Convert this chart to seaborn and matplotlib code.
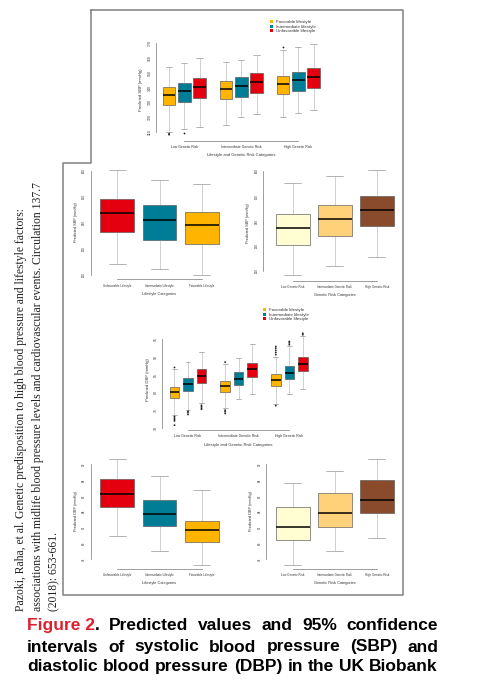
import matplotlib
matplotlib.use('Agg')
import matplotlib.pyplot as plt
from matplotlib.patches import Patch
from matplotlib.lines import Line2D
import pandas as pd
import seaborn as sns

W, H = 479, 680

# categories
genetic_risk = ['Low Genetic Risk', 'Intermediate Genetic Risk', 'High Genetic Risk']
lifestyles = ['Favorable lifestyle', 'Intermediate lifestyle', 'Unfavorable lifestyle']
lifestyle_cats = ['Unfavorable Lifestyle', 'Intermediate Lifestyle', 'Favorable Lifestyle']

# five-number summaries: lower whisker, Q1, median, Q3, upper whisker
# SBP by genetic risk x lifestyle (fav, int, unfav)
sbp_low_risk = [[110.0, 128.1, 135.0, 140.1, 153.9], [112.0, 130.1, 137.6, 143.2, 156.2], [113.8, 132.7, 140.3, 146.1, 159.5]]
sbp_mid_risk = [[114.7, 132.1, 138.8, 144.1, 157.1], [120.0, 133.6, 141.2, 146.8, 158.4], [122.0, 136.5, 143.6, 149.7, 161.7]]
sbp_high_risk = [[120.0, 135.6, 142.6, 147.7, 165.1], [123.2, 137.7, 145.0, 150.4, 166.9], [124.9, 139.7, 147.0, 152.8, 169.3]]
sbp_outliers = [('Low Genetic Risk', 'Favorable lifestyle', 108.4),
                ('Low Genetic Risk', 'Favorable lifestyle', 109.0),
                ('Low Genetic Risk', 'Intermediate lifestyle', 109.8),
                ('High Genetic Risk', 'Favorable lifestyle', 167.1)]

# SBP by lifestyle (unfav, int, fav) and by genetic risk (low, int, high)
sbp_by_lifestyle = [[124.2, 136.6, 143.8, 149.2, 160.5], [122.1, 133.5, 141.0, 146.8, 156.4], [119.7, 132.0, 139.0, 144.1, 155.1]]
sbp_by_genetic = [[118.3, 130.5, 137.2, 142.8, 155.1], [122.0, 134.1, 140.9, 146.5, 158.0], [125.6, 137.9, 144.5, 150.1, 160.4]]

# DBP by genetic risk x lifestyle
dbp_low_risk = [[73.7, 78.4, 80.1, 81.6, 86.6], [75.1, 80.4, 82.3, 84.0, 88.5], [76.9, 82.6, 84.5, 86.5, 91.4]]
dbp_mid_risk = [[75.5, 80.1, 81.7, 83.2, 88.0], [78.1, 82.2, 83.8, 85.6, 89.8], [79.5, 84.4, 86.5, 88.2, 93.5]]
dbp_high_risk = [[76.7, 81.7, 83.4, 85.1, 90.0], [79.5, 83.8, 85.5, 87.3, 93.0], [80.9, 86.1, 88.0, 89.9, 95.8]]
dbp_outliers = [('Low Genetic Risk', 'Favorable lifestyle', v) for v in [87.0, 73.2, 72.8, 72.4, 72.0, 70.8]] + \
               [('Low Genetic Risk', 'Intermediate lifestyle', v) for v in [74.7, 74.3, 73.8]] + \
               [('Low Genetic Risk', 'Unfavorable lifestyle', v) for v in [76.4, 76.0, 75.6, 75.3]] + \
               [('Intermediate Genetic Risk', 'Favorable lifestyle', v) for v in [88.5, 75.0, 74.6, 74.1]] + \
               [('High Genetic Risk', 'Favorable lifestyle', v) for v in [90.6, 91.2, 91.8, 92.4, 92.9, 76.3]] + \
               [('High Genetic Risk', 'Intermediate lifestyle', v) for v in [93.4, 93.9, 94.3]] + \
               [('High Genetic Risk', 'Unfavorable lifestyle', v) for v in [96.2, 96.6]]

dbp_by_lifestyle = [[80.9, 84.6, 86.2, 88.2, 90.7], [79.1, 82.2, 83.7, 85.5, 88.5], [77.3, 80.2, 81.7, 82.9, 86.8]]
dbp_by_genetic = [[77.3, 80.4, 82.1, 84.6, 87.7], [79.1, 82.1, 83.9, 86.4, 89.2], [80.7, 83.8, 85.5, 88.0, 90.7]]

lifestyle_colors = {'Favorable lifestyle': '#FFB400', 'Intermediate lifestyle': '#007D96', 'Unfavorable lifestyle': '#E4000F'}
lifestyle_cat_colors = {'Unfavorable Lifestyle': '#E4000F', 'Intermediate Lifestyle': '#007D96', 'Favorable Lifestyle': '#FFB400'}
genetic_colors = {'Low Genetic Risk': '#FFFDD2', 'Intermediate Genetic Risk': '#FFD27A', 'High Genetic Risk': '#8A4A2C'}

TXT = '#333333'
AXC = '#777777'


def grouped_frame(groups):
    rows = []
    for cat, boxes in zip(genetic_risk, groups):
        for hue, vals in zip(lifestyles, boxes):
            for v in vals:
                rows.append({'cat': cat, 'hue': hue, 'value': v})
    return pd.DataFrame(rows)


def simple_frame(cats, boxes):
    rows = []
    for cat, vals in zip(cats, boxes):
        for v in vals:
            rows.append({'cat': cat, 'value': v})
    return pd.DataFrame(rows)


def place_axes(fig, yaxis_px, cat0_px, step_px, v_lo, px_lo, v_hi, px_hi, bracket_px, v_top):
    x_left = -(cat0_px - yaxis_px) / step_px
    x_right = 2 - x_left
    right_px = cat0_px + x_right * step_px
    scale = (px_lo - px_hi) / (v_hi - v_lo)
    v_bottom = v_lo - (bracket_px - px_lo) / scale
    top_px = px_hi - (v_top - v_hi) * scale
    ax = fig.add_axes([yaxis_px / W, 1 - bracket_px / H, (right_px - yaxis_px) / W, (bracket_px - top_px) / H])
    ax.set_facecolor('none')
    return ax, (x_left, x_right), (v_bottom, v_top)


def style_axes(ax, xlim, ylim, yticks, xticklabels, xlabel, ylabel, tick_fs, lab_fs):
    ax.set_xlim(*xlim)
    ax.set_ylim(*ylim)
    ax.set_yticks(yticks)
    ax.set_yticklabels([str(t) for t in yticks], rotation=90, va='center', color=TXT)
    ax.set_xticks([0, 1, 2])
    ax.set_xticklabels(xticklabels, color=TXT)
    for s in ['top', 'right']:
        ax.spines[s].set_visible(False)
    for s in ['left', 'bottom']:
        ax.spines[s].set_color(AXC)
        ax.spines[s].set_linewidth(0.5)
    ax.spines['left'].set_bounds(yticks[0], yticks[-1])
    ax.spines['bottom'].set_bounds(0, 2)
    ax.tick_params(axis='both', length=1.6, width=0.4, color=AXC, labelsize=tick_fs, pad=1.6)
    ax.set_xlabel(xlabel, fontsize=lab_fs, color=TXT, labelpad=3)
    ax.set_ylabel(ylabel, fontsize=lab_fs, color=TXT, labelpad=3)
    ax.grid(False)


box_kw = dict(whis=(0, 100), saturation=1, showfliers=False, linecolor='#555555', linewidth=0.45,
              medianprops=dict(color='black', linewidth=1.1),
              whiskerprops=dict(color='#8a8a8a', linestyle=(0, (2, 1.2)), linewidth=0.45),
              capprops=dict(color='#8a8a8a', linewidth=0.45))


def grouped_panel(fig, geom, groups, outliers, yticks, ylabel, gap):
    ax, xlim, ylim = place_axes(fig, *geom)
    df = grouped_frame(groups)
    sns.boxplot(data=df, x='cat', y='value', hue='hue', order=genetic_risk, hue_order=lifestyles,
                palette=lifestyle_colors, width=0.8, gap=gap, legend=False, ax=ax, **box_kw)
    odf = pd.DataFrame(outliers, columns=['cat', 'hue', 'value'])
    sns.stripplot(data=odf, x='cat', y='value', hue='hue', order=genetic_risk, hue_order=lifestyles,
                  dodge=True, jitter=False, palette=['#222222'] * 3, size=1.3, legend=False, ax=ax)
    style_axes(ax, xlim, ylim, yticks, genetic_risk, 'Lifestyle and Genetic Risk Categories', ylabel, 2.5, 3.0)
    return ax


def simple_panel(fig, geom, cats, boxes, colors, yticks, xlabel, ylabel):
    ax, xlim, ylim = place_axes(fig, *geom)
    df = simple_frame(cats, boxes)
    sns.boxplot(data=df, x='cat', y='value', hue='cat', order=cats, hue_order=cats,
                palette=colors, width=0.8, legend=False, ax=ax, **box_kw)
    style_axes(ax, xlim, ylim, yticks, cats, xlabel, ylabel, 2.2, 2.8)
    return ax


sns.set_theme(style='white')
plt.rcParams['font.family'] = ['Liberation Sans', 'DejaVu Sans']

fig = plt.figure(figsize=(W / 100, H / 100), dpi=100)
fig.patch.set_facecolor('white')

# top: SBP grouped
grouped_panel(fig, (156, 184.3, 57, 110, 132.3, 170, 42.7, 140.7, 172), [sbp_low_risk, sbp_mid_risk, sbp_high_risk],
              sbp_outliers, [110, 120, 130, 140, 150, 160, 170], 'Predicted SBP (mmHg)', 0.16)
# SBP by lifestyle / genetic risk
simple_panel(fig, (90.7, 117.3, 42.2, 120, 274.7, 160, 171, 279.3, 162), lifestyle_cats, sbp_by_lifestyle,
             lifestyle_cat_colors, [120, 130, 140, 150, 160], 'Lifestyle Categories', 'Predicted SBP (mmHg)')
simple_panel(fig, (263, 292.7, 42, 120, 271, 160, 171, 280.7, 162), genetic_risk, sbp_by_genetic,
             genetic_colors, [120, 130, 140, 150, 160], 'Genetic Risk Categories', 'Predicted SBP (mmHg)')
# DBP grouped
grouped_panel(fig, (162.3, 188, 50.65, 70, 428, 95, 339, 430, 97.5), [dbp_low_risk, dbp_mid_risk, dbp_high_risk],
              dbp_outliers, [70, 75, 80, 85, 90, 95], 'Predicted DBP (mmHg)', 0.3)
# DBP by lifestyle / genetic risk
simple_panel(fig, (90.7, 117.3, 42.2, 78, 559.3, 90, 464.3, 568.7, 91.5), lifestyle_cats, dbp_by_lifestyle,
             lifestyle_cat_colors, [78, 80, 82, 84, 86, 88, 90], 'Lifestyle Categories', 'Predicted DBP (mmHg)')
simple_panel(fig, (266, 292.7, 42, 78, 559.3, 90, 464.3, 568.7, 91.5), genetic_risk, dbp_by_genetic,
             genetic_colors, [78, 80, 82, 84, 86, 88, 90], 'Genetic Risk Categories', 'Predicted DBP (mmHg)')

# legends for grouped panels
handles = [Patch(facecolor=lifestyle_colors[k], edgecolor='none') for k in lifestyles]
for lx, ly in [(268, 18), (261, 306)]:
    fig.legend(handles, lifestyles, loc='upper left', bbox_to_anchor=(lx / W, 1 - ly / H), frameon=False,
               fontsize=3.2, handlelength=0.7, handleheight=0.7, handletextpad=0.6, labelspacing=0.1,
               borderpad=0, labelcolor=TXT)

# frame around the figure
frame_x = [91, 403, 403, 63, 63, 91, 91]
frame_y = [10, 10, 595, 595, 163, 163, 10]
fig.add_artist(Line2D([x / W for x in frame_x], [1 - y / H for y in frame_y], transform=fig.transFigure,
                      color='#808080', linewidth=1.1))

# rotated citation
cite = ['Pazoki, Raha, et al. Genetic predisposition to high blood pressure and lifestyle factors:',
        'associations with midlife blood pressure levels and cardiovascular events. Circulation 137.7',
        '(2018): 653-661.']
for cx, line in zip([21.5, 38, 54.5], cite):
    fig.text(cx / W, 1 - 611 / H, line, rotation=90, ha='center', va='bottom',
             family='Liberation Serif', fontsize=8.4, color='#222222')

# justified caption
caption = [
    [[('Figure 2', '#E0202E'), ('.', 'black')], [('Predicted', 'black')], [('values', 'black')], [('and', 'black')],
     [('95%', 'black')], [('confidence', 'black')]],
    [[(w, 'black')] for w in 'intervals of systolic blood pressure (SBP) and'.split()],
    [[(w, 'black')] for w in 'diastolic blood pressure (DBP) in the UK Biobank'.split()],
]
renderer = fig.canvas.get_renderer()
for base_y, words in zip([630, 651.5, 671], caption):
    arts, widths = [], []
    for segs in words:
        row, w = [], 0
        for txt, col in segs:
            t = fig.text(0, 0, txt, fontsize=12.5, fontweight='bold', color=col, va='baseline', ha='left')
            tw = t.get_window_extent(renderer).width
            row.append((t, tw))
            w += tw
        arts.append(row)
        widths.append(w)
    gap = (438 - 27 - sum(widths)) / (len(words) - 1)
    x = 27
    for row, w in zip(arts, widths):
        xx = x
        for t, tw in row:
            t.set_position((xx / W, 1 - base_y / H))
            xx += tw
        x += w + gap

fig.savefig('out.png', dpi=100, facecolor='white')
